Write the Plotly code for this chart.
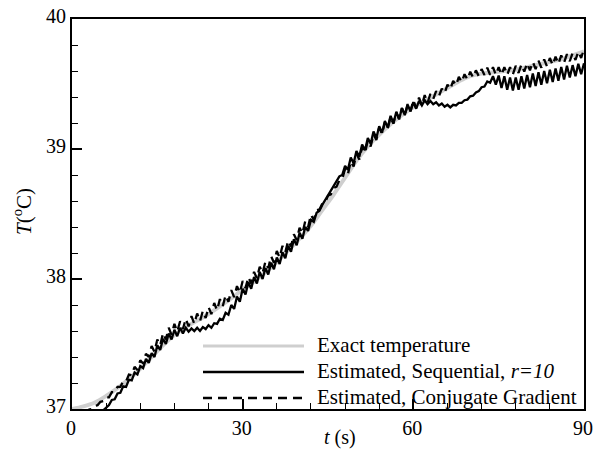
import plotly.graph_objects as go

# ---------------- data ----------------
# Exact temperature, sampled every 2 s from 0 to 90 s
exact_t0, exact_dt = 0.0, 2.0
exact_T = [37.00, 37.02, 37.05, 37.10, 37.16, 37.23, 37.31, 37.40, 37.49, 37.57,
           37.63, 37.68, 37.73, 37.79, 37.85, 37.92, 37.98, 38.05, 38.13, 38.22,
           38.31, 38.41, 38.53, 38.65, 38.78, 38.91, 39.02, 39.11, 39.19, 39.26,
           39.32, 39.37, 39.42, 39.47, 39.52, 39.56, 39.58, 39.59, 39.60, 39.61,
           39.63, 39.65, 39.67, 39.69, 39.72, 39.75]

# Estimated, sequential (r=10), sampled every 0.5 s from 4 s to 90 s
seq_t0, seq_dt = 4.0, 0.5
seq_T = [
    36.93, 36.95,  36.97, 36.99,  37.015, 37.03,  37.07, 37.075,  37.12, 37.125,
    37.175, 37.17,  37.225, 37.22,  37.28, 37.265,  37.33, 37.315,  37.385, 37.355,
    37.43, 37.40,  37.49, 37.455,  37.54, 37.50,  37.58, 37.535,  37.61, 37.56,
    37.625, 37.58,  37.625, 37.595,  37.62, 37.60,  37.625, 37.60,  37.63, 37.615,
    37.645, 37.625,  37.66, 37.655,  37.695, 37.685,  37.74, 37.725,  37.80, 37.77,
    37.865, 37.825,  37.925, 37.88,  37.975, 37.925,  38.015, 37.965,  38.055, 38.00,
    38.085, 38.035,  38.125, 38.075,  38.165, 38.115,  38.205, 38.16,  38.255, 38.21,
    38.305, 38.26,  38.355, 38.31,  38.40, 38.37,  38.455, 38.44,  38.51, 38.525,
    38.57, 38.605,  38.64, 38.675,  38.71, 38.745,  38.79, 38.80,  38.87, 38.84,
    38.935, 38.89,  38.985, 38.94,  39.035, 38.99,  39.085, 39.04,  39.135, 39.085,
    39.175, 39.125,  39.215, 39.165,  39.255, 39.20,  39.285, 39.23,  39.315, 39.26,
    39.34, 39.29,  39.36, 39.31,  39.37, 39.335,  39.375, 39.345,  39.37, 39.345,
    39.36, 39.335,  39.35, 39.325,  39.34, 39.32,  39.34, 39.335,  39.355, 39.355,
    39.375, 39.38,  39.405, 39.41,  39.435, 39.445,  39.475, 39.48,  39.52, 39.51,
    39.56, 39.495,  39.565, 39.47,  39.56, 39.455,  39.55, 39.45,  39.55, 39.455,
    39.56, 39.465,  39.57, 39.475,  39.58, 39.485,  39.59, 39.495,  39.60, 39.505,
    39.61, 39.515,  39.62, 39.525,  39.63, 39.535,  39.64, 39.55,  39.645, 39.56,
    39.655, 39.575,  39.66,
]

# Estimated, conjugate gradient, sampled every 0.5 s from 2 s to 90 s
cg_t0, cg_dt = 2.0, 0.5
cg_T = [
    36.975, 36.975,  36.995, 37.00,  37.025, 37.03,  37.055, 37.06,  37.09, 37.09,
    37.13, 37.13,  37.17, 37.17,  37.215, 37.21,  37.265, 37.26,  37.325, 37.30,
    37.375, 37.35,  37.425, 37.40,  37.485, 37.44,  37.535, 37.49,  37.585, 37.535,
    37.625, 37.57,  37.655, 37.595,  37.675, 37.615,  37.695, 37.635,  37.715, 37.655,
    37.735, 37.675,  37.755, 37.70,  37.785, 37.73,  37.815, 37.76,  37.845, 37.79,
    37.875, 37.825,  37.915, 37.86,  37.945, 37.895,  37.985, 37.93,  38.015, 37.965,
    38.055, 38.005,  38.095, 38.045,  38.135, 38.085,  38.175, 38.125,  38.215, 38.165,
    38.255, 38.205,  38.295, 38.25,  38.345, 38.30,  38.395, 38.35,  38.445, 38.40,
    38.495, 38.455,  38.53, 38.535,  38.58, 38.59,  38.64, 38.65,  38.70, 38.71,
    38.76, 38.77,  38.845, 38.805,  38.905, 38.865,  38.965, 38.92,  39.015, 38.97,
    39.065, 39.02,  39.115, 39.07,  39.165, 39.115,  39.205, 39.155,  39.245, 39.195,
    39.285, 39.23,  39.315, 39.26,  39.345, 39.29,  39.375, 39.315,  39.395, 39.335,
    39.415, 39.355,  39.425, 39.385,  39.445, 39.405,  39.465, 39.43,  39.495, 39.46,
    39.525, 39.49,  39.555, 39.515,  39.575, 39.535,  39.595, 39.55,  39.605, 39.56,
    39.615, 39.57,  39.625, 39.57,  39.63, 39.57,  39.63, 39.57,  39.63, 39.57,
    39.63, 39.575,  39.64, 39.585,  39.65, 39.595,  39.66, 39.605,  39.67, 39.615,
    39.68, 39.625,  39.69, 39.635,  39.70, 39.645,  39.71, 39.655,  39.72, 39.665,
    39.73, 39.675,  39.74, 39.685,  39.75, 39.70,  39.77,
]

legend_labels = ["Exact temperature",
                 "Estimated, Sequential, <i>r=10</i>",
                 "Estimated, Conjugate Gradient"]
x_ticks = [0, 30, 60, 90]
y_ticks = [37, 38, 39, 40]

exact_x = [exact_t0 + i * exact_dt for i in range(len(exact_T))]
seq_x = [seq_t0 + i * seq_dt for i in range(len(seq_T))]
cg_x = [cg_t0 + i * cg_dt for i in range(len(cg_T))]

FONT = "Liberation Serif, Times New Roman, serif"
fig = go.Figure()
fig.add_trace(go.Scatter(x=exact_x, y=exact_T, mode="lines", line_shape="spline",
                         line=dict(color="#cfcfcf", width=4), showlegend=False))
fig.add_trace(go.Scatter(x=cg_x, y=cg_T, mode="lines",
                         line=dict(color="black", width=2.3, dash="9px,6px"), showlegend=False))
fig.add_trace(go.Scatter(x=seq_x, y=seq_T, mode="lines",
                         line=dict(color="black", width=2.3), showlegend=False))

# The page body margin is removed (post_script below), so page pixels = figure pixels
W, H = 594, 449
PL, PR, PT, PB = 72, 584, 19, 409          # plot area in page pixels
ml, mr, mt, mb = PL, W - PR, PT, H - PB
pw, ph = PR - PL, PB - PT
def px(xp):
    return (xp - PL) / pw
def py(yp):
    return 1 - (yp - PT) / ph

rows_y = [345, 371, 397]
styles = [dict(color="#cfcfcf", width=3), dict(color="black", width=2.3),
          dict(color="black", width=2.3, dash="9px,6px")]
for yy, st, lab in zip(rows_y, styles, legend_labels):
    fig.add_shape(type="line", xref="paper", yref="paper",
                  x0=px(203), x1=px(304), y0=py(yy + 1), y1=py(yy + 1), line=st)
    fig.add_annotation(xref="paper", yref="paper", x=px(315), y=py(yy),
                       text=lab, showarrow=False, xanchor="left", yanchor="middle",
                       font=dict(family=FONT, size=21, color="black"))

# axis titles
fig.add_annotation(xref="paper", yref="paper", x=px(340), y=py(437),
                   text="<i>t</i> (s)", showarrow=False, xanchor="center", yanchor="middle",
                   font=dict(family=FONT, size=20, color="black"))
fig.add_annotation(xref="paper", yref="paper", x=px(22), y=py(212),
                   text="<i>T</i>(<sup>o</sup>C)", showarrow=False, textangle=-90,
                   xanchor="center", yanchor="middle",
                   font=dict(family=FONT, size=21, color="black"))

axis_common = dict(showgrid=False, zeroline=False, showline=True, linecolor="black",
                   linewidth=2, mirror=True, ticks="inside", tickcolor="black",
                   ticklen=10, tickwidth=1.5, automargin=False, ticklabeloverflow="allow",
                   tickfont=dict(family=FONT, size=20, color="black"))
fig.update_xaxes(range=[0, 90], tickvals=x_ticks, ticklabelshift=-1, **axis_common,
                 minor=dict(ticks="inside", dtick=6, ticklen=6, tickcolor="black", tickwidth=1))
fig.update_yaxes(range=[37, 40], tickvals=y_ticks, ticklabelshift=-3, **axis_common,
                 minor=dict(ticks="inside", dtick=0.2, ticklen=6, tickcolor="black", tickwidth=1))

fig.update_layout(width=W, height=H, margin=dict(l=ml, r=mr, t=mt, b=mb, autoexpand=False),
                  plot_bgcolor="white", paper_bgcolor="white", showlegend=False)
fig.write_html("out.html", config={"displayModeBar": False},
               post_script="document.body.style.margin='0px';document.body.style.overflow='hidden';")
